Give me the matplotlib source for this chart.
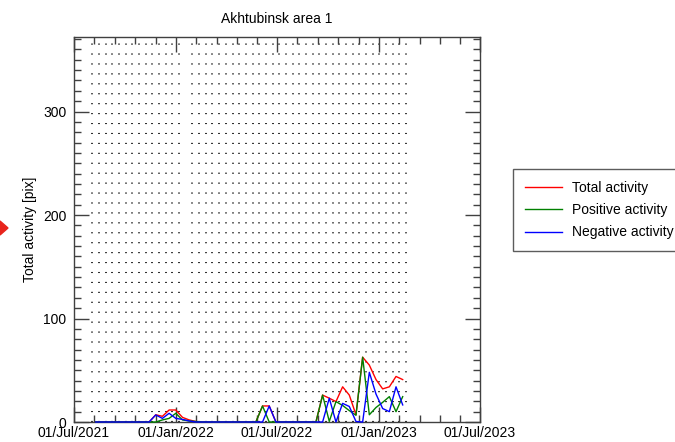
import matplotlib
matplotlib.use("Agg")
import matplotlib.pyplot as plt
import matplotlib.dates as mdates
from matplotlib.patches import Polygon
import numpy as np
import pandas as pd

# acquisition dates (12-day cadence), one missing pass in Jan 2022
grid_dates = list(pd.date_range("2021-08-03", "2022-01-06", freq="12D")) + \
             list(pd.date_range("2022-01-30", "2023-02-18", freq="12D"))
dates = pd.date_range("2021-08-09", "2023-02-12", freq="12D")

total = [0, 0, 0, 0, 0, 0, 0, 0, 0, 7, 5.5, 11.6, 11.6, 4.5, 2, 0.5,
         0, 0, 0, 0, 0, 0, 0, 0, 0, 15.5, 15.5, 0, 0, 0, 0, 0, 0, 0,
         26, 23, 19.7, 34, 26, 7, 62.6, 55, 41, 32, 34, 44, 41]
positive = [0, 0, 0, 0, 0, 0, 0, 0, 0, 0, 2, 3.5, 8.4, 2, 1, 0.5,
            0, 0, 0, 0, 0, 0, 0, 0, 0, 15.5, 0, 0, 0, 0, 0, 0, 0, 0,
            26, 0.6, 19.7, 16, 11, 6.5, 62.6, 7, 14, 19, 24.5, 10, 24.5]
negative = [0, 0, 0, 0, 0, 0, 0, 0, 0, 6.8, 3.5, 8.4, 3.5, 2.5, 1, 0,
            0, 0, 0, 0, 0, 0, 0, 0, 0, 0, 15.5, 0, 0, 0, 0, 0, 0, 0,
            0, 23, 0, 18, 15, 0.5, 0, 48, 27, 13, 10, 34, 16.5]

major_dates = pd.to_datetime(["2021-07-01", "2022-01-01", "2022-07-01",
                              "2023-01-01", "2023-07-01"])

plt.rcParams['font.family'] = ['Liberation Sans', 'DejaVu Sans']
plt.rcParams['font.size'] = 10

fig = plt.figure(figsize=(6.75, 4.42), dpi=100)
ax = fig.add_axes([74/675, 20/442, 406/675, 385/442])

fc = '0.25'
for d in grid_dates:
    ax.axvline(d, color='0.1', lw=1.3, linestyle=(0, (0.6, 4.9)), zorder=1)

ax.plot(dates, total, color='#ff0000', lw=1.0, label='Total activity', zorder=3, clip_on=False)
ax.plot(dates, positive, color='#008000', lw=1.0, label='Positive activity', zorder=3, clip_on=False)
ax.plot(dates, negative, color='#0000ff', lw=1.0, label='Negative activity', zorder=3, clip_on=False)

ax.set_xlim(major_dates[0], major_dates[-1])
ax.set_ylim(0, 372)

mnums = mdates.date2num(major_dates)
minors = []
for a, b in zip(mnums[:-1], mnums[1:]):
    minors.extend(np.linspace(a, b, 6)[1:-1])
ax.set_xticks(major_dates)
ax.set_xticks(minors, minor=True)
ax.xaxis.set_major_formatter(mdates.DateFormatter('%d/%b/%Y'))
ax.set_yticks([0, 100, 200, 300])
ax.set_yticks(np.arange(0, 371, 10), minor=True)

ax.tick_params(which='both', direction='in', top=True, right=True, color=fc, width=1.0)
ax.tick_params(which='major', length=11)
ax.tick_params(which='minor', length=5)
ax.tick_params(axis='y', which='major', pad=5.5)
ax.tick_params(axis='x', which='major', pad=3)
for s in ax.spines.values():
    s.set_color(fc)
    s.set_linewidth(1.0)

ax.set_ylabel('Total activity [pix]', labelpad=4)
ax.set_title('Akhtubinsk area 1', pad=10, fontsize=10)

leg = ax.legend(loc='upper left', bbox_to_anchor=(513/675, 1 - 169/442),
                bbox_transform=fig.transFigure, frameon=True, fancybox=False,
                handlelength=2.66, handletextpad=0.72, borderpad=0.85,
                labelspacing=0.6, borderaxespad=0)
leg.get_frame().set_edgecolor('0.2')
leg.get_frame().set_linewidth(1.0)

# red marker cut off at the left edge
tri = Polygon([(0, 1 - 221/442), (8/675, 1 - 228/442), (0, 1 - 235/442)],
              closed=True, transform=fig.transFigure, color='#e8241c')
fig.patches.append(tri)

fig.savefig('out.png', dpi=100)
